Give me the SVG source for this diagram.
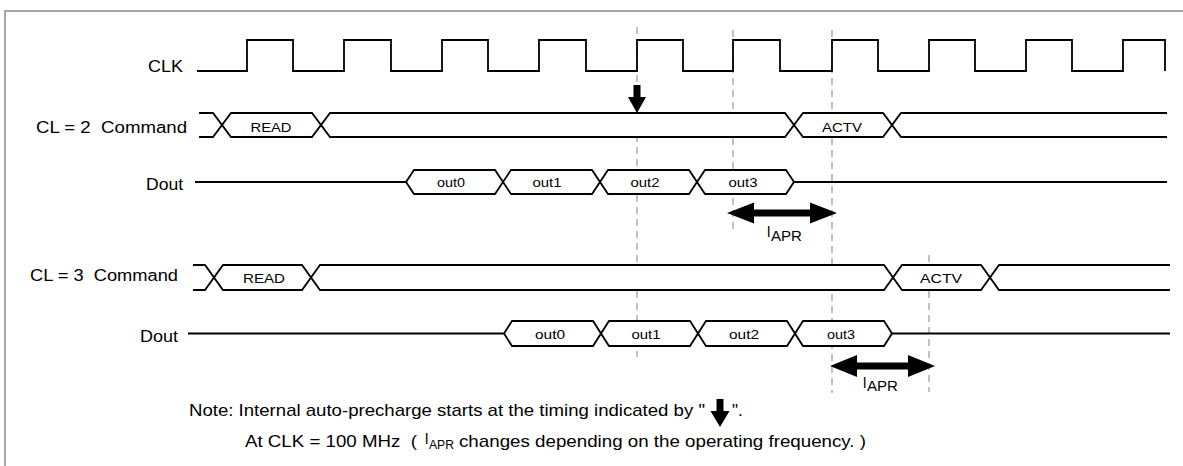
<svg xmlns="http://www.w3.org/2000/svg" width="1183" height="466" viewBox="0 0 1183 466">
<style>
.sig{fill:none;stroke:#000;stroke-width:1.8;stroke-linejoin:miter}
.bg{fill:#fff;stroke:none}
.dash{fill:none;stroke:#999;stroke-width:1.2;stroke-dasharray:7 5}
.frame{fill:none;stroke:#8a8a8a;stroke-width:1.5}
.lbl{font-family:"Liberation Sans",Arial,Helvetica,sans-serif;font-size:16px;fill:#000;white-space:pre}
.bus{font-family:"Liberation Sans",Arial,Helvetica,sans-serif;font-size:13px;fill:#000;text-anchor:middle}
.note{font-family:"Liberation Sans",Arial,Helvetica,sans-serif;font-size:17px;fill:#000;white-space:pre}
.sub{font-family:"Liberation Sans",Arial,Helvetica,sans-serif;fill:#000}
.arr{fill:#000;stroke:none}
</style>
<g id="frame"><path class="frame" d="M5,466 V11 H1183"/></g>
<g id="connectors">
  <line class="dash" x1="637" y1="27" x2="637" y2="357"/>
  <line class="dash" x1="733" y1="30" x2="733" y2="232"/>
  <line class="dash" x1="832" y1="30" x2="832" y2="393"/>
  <line class="dash" x1="929" y1="255" x2="929" y2="392"/>
  <polygon class="arr" points="633.5,85 640.5,85 640.5,97 646,97 637,113 628,97 633.5,97"/>
  <polygon class="arr" points="727,213 754,202.5 754,209.5 810,209.5 810,202.5 837,213 810,223.5 810,216.5 754,216.5 754,223.5"/>
  <polygon class="arr" points="830,366 857,355 857,362.5 908,362.5 908,355 935,366 908,377 908,369.5 857,369.5 857,377"/>
</g>
<g id="clk">
  <text class="lbl" x="148" y="72" textLength="35" lengthAdjust="spacingAndGlyphs">CLK</text>
  <polyline class="sig" points="197,71 247,71 247,40 293,40 293,71 344,71 344,40 391,40 391,71 442,71 442,40 488,40 488,71 539,71 539,40 586,40 586,71 637,71 637,40 683,40 683,71 733,71 733,40 780,40 780,71 832,71 832,40 878,40 878,71 929,71 929,40 975,40 975,71 1026,71 1026,40 1072,40 1072,71 1123,71 1123,40 1165,40 1165,71"/>
</g>
<g id="cl2-command">
  <text class="lbl" x="36" y="133" textLength="151" lengthAdjust="spacingAndGlyphs">CL = 2  Command</text>
  <rect class="bg" x="199" y="113" width="968" height="24"/>
  <polyline class="sig" points="199,113 213,113 231,137 312,137 330,113 785,113 803,137 883,137 901,113 1167,113"/>
  <polyline class="sig" points="199,137 213,137 231,113 312,113 330,137 785,137 803,113 883,113 901,137 1167,137"/>
  <text class="bus" x="271" y="132" textLength="41" lengthAdjust="spacingAndGlyphs">READ</text>
  <text class="bus" x="842" y="132" textLength="40" lengthAdjust="spacingAndGlyphs">ACTV</text>
</g>
<g id="cl2-dout">
  <text class="lbl" x="146" y="190" textLength="37" lengthAdjust="spacingAndGlyphs">Dout</text>
  <polygon class="bg" points="406,182 414,170 786,170 794,182 786,194 414,194"/>
  <polyline class="sig" points="195,182 406,182 414,170 495,170 511,194 592,194 608,170 689,170 705,194 786,194 794,182 1167,182"/>
  <polyline class="sig" points="406,182 414,194 495,194 511,170 592,170 608,194 689,194 705,170 786,170 794,182"/>
  <text class="bus" x="451" y="187" textLength="28" lengthAdjust="spacingAndGlyphs">out0</text>
  <text class="bus" x="547" y="187" textLength="29" lengthAdjust="spacingAndGlyphs">out1</text>
  <text class="bus" x="645" y="187" textLength="29" lengthAdjust="spacingAndGlyphs">out2</text>
  <text class="bus" x="743" y="187" textLength="29" lengthAdjust="spacingAndGlyphs">out3</text>
</g>
<g id="tapr-cl2">
  <text class="sub" x="767" y="237" font-size="15">l</text>
  <text class="sub" x="771" y="241" font-size="14" textLength="31" lengthAdjust="spacingAndGlyphs">APR</text>
</g>
<g id="cl3-command">
  <text class="lbl" x="30" y="281" textLength="148" lengthAdjust="spacingAndGlyphs">CL = 3  Command</text>
  <rect class="bg" x="193" y="265" width="977" height="25"/>
  <polyline class="sig" points="193,265 205,265 223,290 302,290 320,265 884,265 902,290 981,290 999,265 1170,265"/>
  <polyline class="sig" points="193,290 205,290 223,265 302,265 320,290 884,290 902,265 981,265 999,290 1170,290"/>
  <text class="bus" x="264" y="283" textLength="42" lengthAdjust="spacingAndGlyphs">READ</text>
  <text class="bus" x="941" y="283" textLength="42" lengthAdjust="spacingAndGlyphs">ACTV</text>
</g>
<g id="cl3-dout">
  <text class="lbl" x="140" y="342" textLength="38" lengthAdjust="spacingAndGlyphs">Dout</text>
  <polygon class="bg" points="504,333.5 512,321 884,321 892,333.5 884,346 512,346"/>
  <polyline class="sig" points="188,333.5 504,333.5 512,321 593,321 609,346 690,346 706,321 787,321 803,346 884,346 892,333.5 1170,333.5"/>
  <polyline class="sig" points="504,333.5 512,346 593,346 609,321 690,321 706,346 787,346 803,321 884,321 892,333.5"/>
  <text class="bus" x="550" y="339" textLength="30" lengthAdjust="spacingAndGlyphs">out0</text>
  <text class="bus" x="646" y="339" textLength="29" lengthAdjust="spacingAndGlyphs">out1</text>
  <text class="bus" x="744" y="339" textLength="30" lengthAdjust="spacingAndGlyphs">out2</text>
  <text class="bus" x="841" y="339" textLength="28" lengthAdjust="spacingAndGlyphs">out3</text>
</g>
<g id="tapr-cl3">
  <text class="sub" x="863" y="388" font-size="15">l</text>
  <text class="sub" x="867" y="391" font-size="14" textLength="31" lengthAdjust="spacingAndGlyphs">APR</text>
</g>
<g id="note">
  <text class="note" x="189" y="416" textLength="516" lengthAdjust="spacingAndGlyphs">Note: Internal auto-precharge starts at the timing indicated by "</text>
  <polygon class="arr" points="716.5,399 723.5,399 723.5,411 729.5,411 720,427 710.5,411 716.5,411"/>
  <text class="note" x="732" y="416">".</text>
  <text class="note" x="245" y="447" textLength="172" lengthAdjust="spacingAndGlyphs">At CLK = 100 MHz  (</text>
  <text class="sub" x="425" y="444" font-size="15">l</text>
  <text class="sub" x="429" y="449" font-size="12" textLength="25" lengthAdjust="spacingAndGlyphs">APR</text>
  <text class="note" x="459" y="447" textLength="407" lengthAdjust="spacingAndGlyphs">changes depending on the operating frequency. )</text>
</g>
</svg>
